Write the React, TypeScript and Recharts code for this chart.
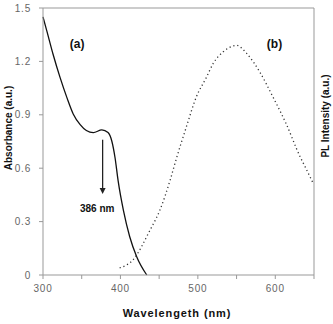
import React from 'react';
import { ComposedChart, Line, XAxis, YAxis, ReferenceLine, ReferenceDot } from 'recharts';

// absorbance spectrum (a)
const absWavelength = [300, 305, 313, 322, 331, 339, 348, 356, 365, 376, 384, 389, 393, 397, 404, 412, 421, 434];
const absValues = [1.45, 1.37, 1.24, 1.11, 0.995, 0.905, 0.845, 0.812, 0.8, 0.815, 0.8, 0.75, 0.66, 0.53, 0.36, 0.215, 0.103, 0.0];

// photoluminescence spectrum (b)
const plWavelength = [399, 416, 438, 451, 464, 472, 485, 498, 511, 520, 533, 546, 550, 563, 580, 597, 614, 632, 636, 649];
const plValues = [0.04, 0.084, 0.25, 0.365, 0.53, 0.65, 0.83, 1.0, 1.11, 1.19, 1.255, 1.287, 1.29, 1.245, 1.14, 1.0, 0.85, 0.665, 0.63, 0.515];

const xTicks = [300, 350, 400, 450, 500, 550, 600, 650];
const yTicks = [0, 0.3, 0.6, 0.9, 1.2, 1.5];

const absData = absWavelength.map((x, i) => ({ x, v: absValues[i] }));
const plData = plWavelength.map((x, i) => ({ x, v: plValues[i] }));

const AXIS = '#999';
const FONT = '"Liberation Sans", Arial, sans-serif';
const tickStyle = { fontSize: 10, fill: '#666', fontFamily: FONT, letterSpacing: 0.8 };

const Arrow = (p: any) => {
  const { x1, y1, x2, y2 } = p;
  return (
    <g>
      <line x1={x1} y1={y1} x2={x2} y2={y2 - 5} stroke="#222" strokeWidth={1.3} />
      <polygon points={`${x2 - 3},${y2 - 6} ${x2 + 3},${y2 - 6} ${x2},${y2}`} fill="#222" />
    </g>
  );
};

const textDot = (text: string, size: number) => (p: any) => (
  <text x={p.cx} y={p.cy} textAnchor="middle" dominantBaseline="central"
    fontFamily={FONT} fontWeight="bold" fontSize={size} fill="#111">{text}</text>
);

export default function App() {
  return (
    <div style={{ width: 333, height: 324, position: 'absolute', left: 0, top: 0, background: '#fff' }}>
      <ComposedChart width={333} height={324} margin={{ top: 8, right: 0, bottom: 0, left: 0 }}>
        <XAxis
          dataKey="x"
          type="number"
          domain={[300, 650]}
          ticks={xTicks}
          allowDuplicatedCategory={false}
          tickFormatter={(v: number) => (v % 100 === 0 ? String(v) : '')}
          tick={tickStyle}
          stroke={AXIS}
          tickSize={4}
          tickMargin={6}
          height={49}
          label={{
            content: () => (
              <text x={177} y={313} textAnchor="middle" dominantBaseline="central"
                fontFamily={FONT} fontWeight="bold" fontSize={11} letterSpacing={0.9} fill="#111">
                Wavelengeth (nm)
              </text>
            ),
          }}
        />
        <YAxis
          yAxisId="abs"
          domain={[0, 1.5]}
          ticks={yTicks}
          tickFormatter={(v: number) => (v === 0 ? '0' : v.toFixed(1))}
          tick={tickStyle}
          stroke={AXIS}
          tickSize={4}
          tickMargin={8}
          width={43}
          label={{
            content: () => (
              <text x={8} y={128} transform="rotate(-90 8 128)" textAnchor="middle" dominantBaseline="central"
                fontFamily={FONT} fontWeight="bold" fontSize={10} fill="#111">
                Absorbance (a.u.)
              </text>
            ),
          }}
        />
        <YAxis
          yAxisId="pl"
          orientation="right"
          domain={[0, 1.5]}
          tick={false}
          tickLine={false}
          stroke={AXIS}
          width={19}
          label={{
            content: () => (
              <text x={325} y={116} transform="rotate(-90 325 116)" textAnchor="middle" dominantBaseline="central"
                fontFamily={FONT} fontWeight="bold" fontSize={10} fill="#111">
                PL Intensity (a.u.)
              </text>
            ),
          }}
        />
        <ReferenceLine yAxisId="abs" y={1.5} stroke={AXIS} />
        <Line
          yAxisId="abs"
          data={absData}
          dataKey="v"
          type="monotone"
          stroke="#111"
          strokeWidth={1.3}
          dot={false}
          isAnimationActive={false}
        />
        <Line
          yAxisId="pl"
          data={plData}
          dataKey="v"
          type="monotone"
          stroke="#333"
          strokeWidth={1.3}
          strokeDasharray="1.2 2.8"
          dot={false}
          isAnimationActive={false}
        />
        <ReferenceLine
          yAxisId="abs"
          segment={[{ x: 377, y: 0.76 }, { x: 377, y: 0.455 }]}
          shape={Arrow}
        />
        <ReferenceDot yAxisId="abs" x={344} y={1.3} r={0} shape={textDot('(a)', 12)} />
        <ReferenceDot yAxisId="abs" x={599} y={1.3} r={0} shape={textDot('(b)', 12)} />
        <ReferenceDot yAxisId="abs" x={370} y={0.371} r={0} shape={textDot('386 nm', 10)} />
      </ComposedChart>
    </div>
  );
}
